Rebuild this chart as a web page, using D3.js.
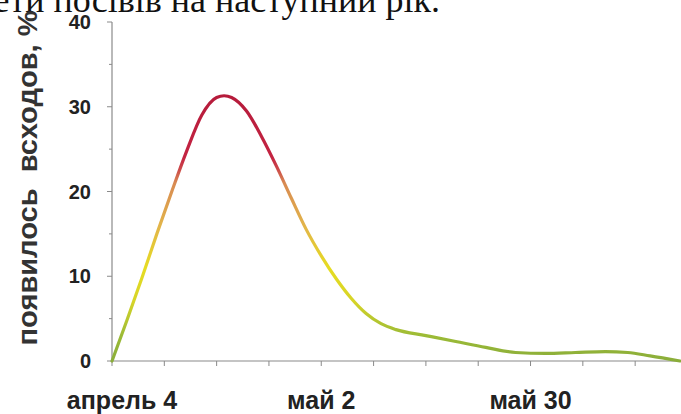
<!DOCTYPE html>
<html>
<head>
<meta charset="utf-8">
<script src="https://cdn.jsdelivr.net/npm/d3@7"></script>
<style>
  html, body { margin: 0; padding: 0; background: #fff; }
  svg { display: block; }
</style>
</head>
<body>
<div id="chart"></div>
<script>
// дни от 4 апреля и доля появившихся всходов, %
const days = [0, 2, 4, 6, 8, 10, 12, 14, 15, 16, 18, 20, 22, 24, 26, 28, 30, 32, 34, 36, 38, 42, 46, 50, 54, 58, 62, 66, 69, 72, 76];
const emergence = [0, 4.8, 9.8, 15, 20, 24.8, 29, 31.1, 31.3, 31.1, 29.5, 26.5, 23, 19.2, 15.5, 12.4, 9.7, 7.4, 5.6, 4.4, 3.7, 3.0, 2.3, 1.6, 1.0, 0.9, 1.0, 1.1, 1.0, 0.6, 0];

const yTicks = [0, 10, 20, 30, 40];
const xLabels = [
    { day: 0, text: 'апрель 4' },
    { day: 28, text: 'май 2' },
    { day: 56, text: 'май 30' }
];
const caption = 'ети посівів на наступний рік.';
const yTitle = 'появилось  всходов, %';

const W = 681, H = 414;
const svg = d3.select('#chart').append('svg')
    .attr('width', W)
    .attr('height', H);

const x = d3.scaleLinear().domain([0, 76]).range([112, 680]);
const y = d3.scaleLinear().domain([0, 40]).range([361, 22]);

// обрезанная строка текста сверху
svg.append('text')
    .attr('x', 440)
    .attr('y', 12)
    .attr('text-anchor', 'end')
    .style('font-family', '"Liberation Serif", "Times New Roman", serif')
    .style('font-size', '36px')
    .attr('fill', '#111')
    .text(caption);

// ось Y
const axisColor = '#8a8a8a';
svg.append('line')
    .attr('x1', x(0)).attr('x2', x(0))
    .attr('y1', y(40)).attr('y2', y(0))
    .attr('stroke', axisColor).attr('stroke-width', 1.2);

svg.selectAll('.ytick')
    .data(d3.range(0, 41, 5))
    .join('line')
    .attr('class', 'ytick')
    .attr('x1', d => x(0) - (d % 10 === 0 ? 5 : 3))
    .attr('x2', x(0))
    .attr('y1', d => y(d)).attr('y2', d => y(d))
    .attr('stroke', axisColor).attr('stroke-width', 1);

svg.selectAll('.ylabel')
    .data(yTicks)
    .join('text')
    .attr('class', 'ylabel')
    .attr('x', 91)
    .attr('y', d => y(d) + 7)
    .attr('text-anchor', 'end')
    .style('font-family', '"Liberation Sans", Arial, sans-serif')
    .style('font-weight', 'bold')
    .style('font-size', '20px')
    .attr('fill', '#222')
    .text(d => d);

svg.append('text')
    .attr('transform', `translate(37,${178}) rotate(-90)`)
    .attr('text-anchor', 'middle')
    .attr('textLength', 335)
    .attr('lengthAdjust', 'spacingAndGlyphs')
    .style('font-family', '"Liberation Sans", Arial, sans-serif')
    .style('font-weight', 'bold')
    .style('font-size', '28px')
    .style('white-space', 'pre')
    .attr('fill', '#333')
    .text(yTitle);

// ось X
svg.append('line')
    .attr('x1', x(0)).attr('x2', W)
    .attr('y1', y(0)).attr('y2', y(0))
    .attr('stroke', axisColor).attr('stroke-width', 1.2);

svg.selectAll('.xtick')
    .data(d3.range(0, 71, 7))
    .join('line')
    .attr('class', 'xtick')
    .attr('x1', d => x(d)).attr('x2', d => x(d))
    .attr('y1', y(0)).attr('y2', y(0) + 5)
    .attr('stroke', axisColor).attr('stroke-width', 1);

svg.selectAll('.xlabel')
    .data(xLabels)
    .join('text')
    .attr('class', 'xlabel')
    .attr('x', d => x(d.day) + (d.day === 0 ? 10 : 0))
    .attr('y', 409)
    .attr('text-anchor', 'middle')
    .style('font-family', '"Liberation Sans", Arial, sans-serif')
    .style('font-weight', 'bold')
    .style('font-size', '25px')
    .attr('fill', '#222')
    .text(d => d.text);

// градиент по высоте: зелёный -> жёлтый -> оранжевый -> красный
const defs = svg.append('defs');
const grad = defs.append('linearGradient')
    .attr('id', 'emergeGrad')
    .attr('gradientUnits', 'userSpaceOnUse')
    .attr('x1', 0).attr('x2', 0)
    .attr('y1', y(0)).attr('y2', y(32));
const stops = [
    [0, '#8aad3a'],
    [3, '#9cbb36'],
    [7, '#d6d428'],
    [11, '#e6dc22'],
    [16, '#e2b44a'],
    [21, '#d88a52'],
    [22.6, '#cc4a4a'],
    [24, '#c42442'],
    [32, '#b41a3a']
];
grad.selectAll('stop')
    .data(stops)
    .join('stop')
    .attr('offset', d => d[0] / 32)
    .attr('stop-color', d => d[1]);

const line = d3.line()
    .x((d, i) => x(days[i]))
    .y(d => y(d))
    .curve(d3.curveMonotoneX);

svg.append('path')
    .datum(emergence)
    .attr('d', line)
    .attr('fill', 'none')
    .attr('stroke', 'url(#emergeGrad)')
    .attr('stroke-width', 3.2)
    .attr('stroke-linecap', 'round');
</script>
</body>
</html>
